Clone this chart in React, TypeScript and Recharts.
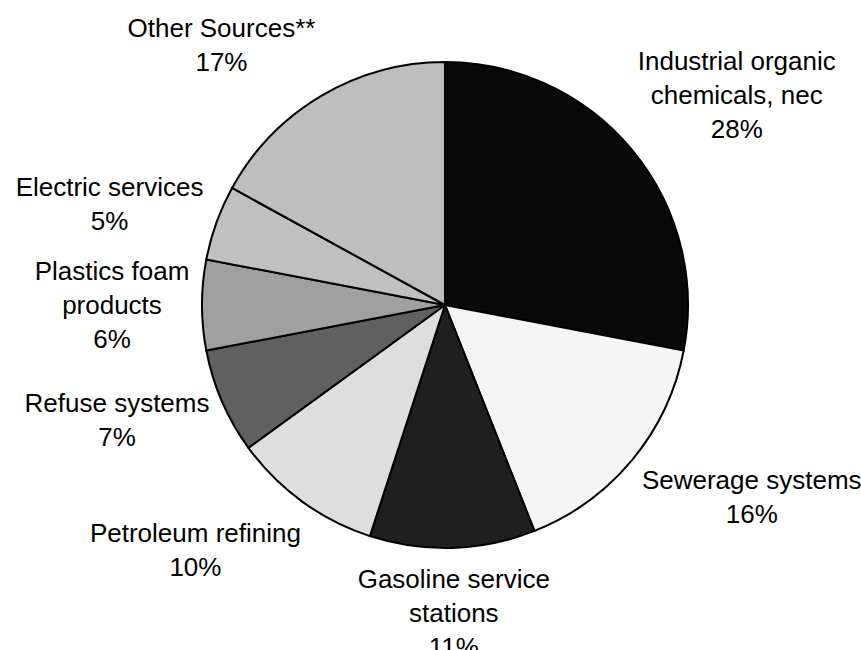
import { PieChart, Pie, Cell } from 'recharts';

const sources = [
  'Industrial organic chemicals, nec',
  'Sewerage systems',
  'Gasoline service stations',
  'Petroleum refining',
  'Refuse systems',
  'Plastics foam products',
  'Electric services',
  'Other Sources**',
];
const shares = [28, 16, 11, 10, 7, 6, 5, 17];
const labelLines = [
  ['Industrial organic', 'chemicals, nec'],
  ['Sewerage systems'],
  ['Gasoline service', 'stations'],
  ['Petroleum refining'],
  ['Refuse systems'],
  ['Plastics foam', 'products'],
  ['Electric services'],
  ['Other Sources**'],
];

const fills = ['#080808', '#f5f5f5', '#1f1f1f', '#dedede', '#606060', '#a0a0a0', '#c0c0c0', '#bebebe'];

// nudge of each label block from the point just outside the slice
const labelShift = [
  [76, -57],
  [91, 6],
  [0, 3],
  [-85, 10],
  [-71, -4],
  [-53, -25],
  [-72, -14],
  [-81, -27],
];

const data = sources.map((name, i) => ({ name, value: shares[i] }));

const RAD = Math.PI / 180;
const LINE_H = 34;

const renderLabel = (props: any) => {
  const { cx, cy, midAngle, outerRadius, index, value } = props;
  const r = outerRadius + 37;
  const x = cx + r * Math.cos(-midAngle * RAD) + labelShift[index][0];
  const y = cy + r * Math.sin(-midAngle * RAD) + labelShift[index][1];
  const lines = [...labelLines[index], `${value}%`];
  return (
    <text
      x={x}
      y={y}
      textAnchor="middle"
      fill="#000"
      fontSize={26}
      fontFamily="'Liberation Sans', Arial, sans-serif"
    >
      {lines.map((t, i) => (
        <tspan key={i} x={x} y={y + i * LINE_H}>
          {t}
        </tspan>
      ))}
    </text>
  );
};

export default function App() {
  return (
    <div style={{ position: 'absolute', left: 0, top: 0, background: '#fff' }}>
      <PieChart width={861} height={650}>
        <Pie
          data={data}
          dataKey="value"
          nameKey="name"
          cx={440}
          cy={300}
          outerRadius={243}
          startAngle={90}
          endAngle={-270}
          stroke="#000"
          strokeWidth={2}
          label={renderLabel}
          labelLine={false}
          isAnimationActive={false}
        >
          {data.map((d, i) => (
            <Cell key={d.name} fill={fills[i]} />
          ))}
        </Pie>
      </PieChart>
    </div>
  );
}
